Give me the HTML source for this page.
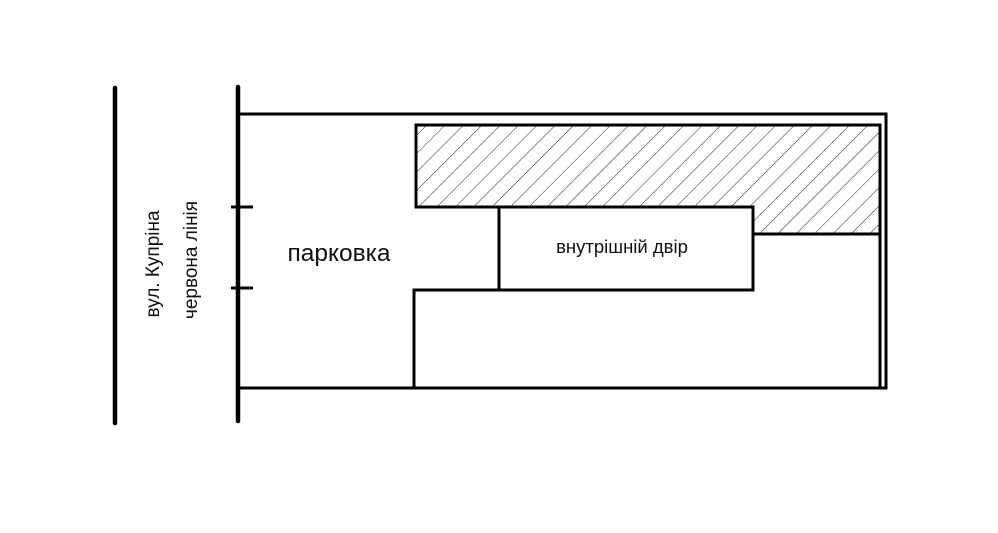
<!DOCTYPE html>
<html><head><meta charset="utf-8"><style>
html,body{margin:0;padding:0;background:#fff;}
svg{display:block;}
text{font-family:"Liberation Sans","DejaVu Sans",sans-serif;fill:#111;}
</style></head><body>
<svg width="998" height="533" viewBox="0 0 998 533" xmlns="http://www.w3.org/2000/svg">
<defs>
<pattern id="h" patternUnits="userSpaceOnUse" width="13" height="13" patternTransform="rotate(45)">
<line x1="0" y1="0" x2="0" y2="13" stroke="#222" stroke-width="1"/>
</pattern>
</defs>
<rect width="998" height="533" fill="#fff"/>
<line x1="115" y1="88" x2="115" y2="423" stroke="#000" stroke-width="4.5" stroke-linecap="round"/>
<line x1="238" y1="87" x2="238" y2="421" stroke="#000" stroke-width="4.5" stroke-linecap="round"/>
<line x1="231" y1="207" x2="253" y2="207" stroke="#000" stroke-width="3"/>
<line x1="231" y1="288" x2="253" y2="288" stroke="#000" stroke-width="3"/>
<polyline points="238,114 886,114 886,388 238,388" fill="none" stroke="#000" stroke-width="3"/>
<polygon points="416,125 880,125 880,234 753,234 753,207 416,207" fill="url(#h)" stroke="#000" stroke-width="3"/>
<line x1="880" y1="234" x2="880" y2="388" stroke="#000" stroke-width="3"/>
<rect x="499" y="207" width="254" height="83" fill="#fff" stroke="#000" stroke-width="3"/>
<polyline points="414,388 414,290 499,290" fill="none" stroke="#000" stroke-width="3"/>
<text x="339" y="261" font-size="24.5" text-anchor="middle">парковка</text>
<text x="622" y="253" font-size="18.5" text-anchor="middle">внутрішній двір</text>
<text transform="translate(159,264) rotate(-90)" font-size="19" text-anchor="middle">вул. Купріна</text>
<text transform="translate(197,260) rotate(-90)" font-size="19" text-anchor="middle">червона лінія</text>
</svg>
</body></html>
